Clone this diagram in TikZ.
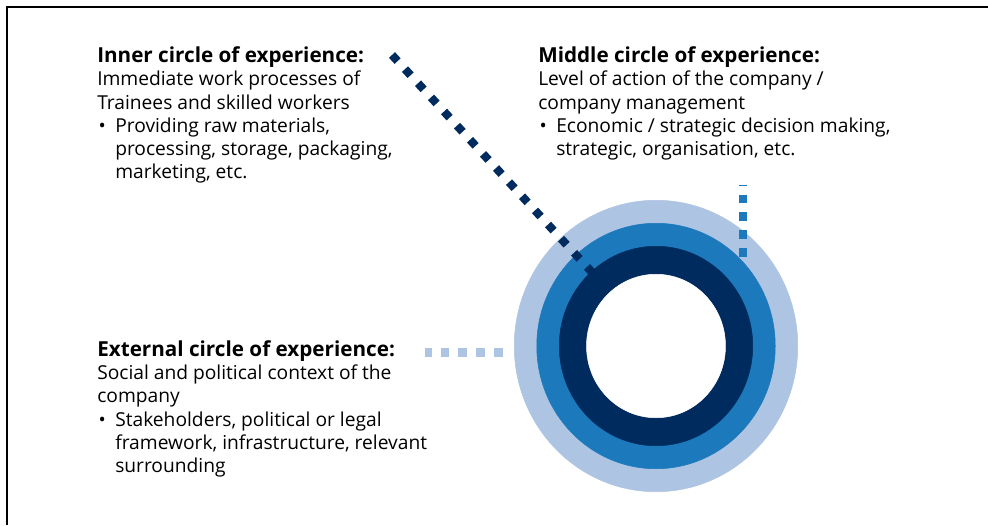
\documentclass[tikz,border=0pt]{standalone}
\usepackage{fontspec}
\setmainfont{Open Sans}
\usetikzlibrary{shapes.geometric}
\definecolor{ringlight}{RGB}{173,196,226}
\definecolor{ringmid}{RGB}{27,121,188}
\definecolor{ringdark}{RGB}{0,43,95}
\tikzset{
    % Ring styles
    ring/.style={
        ellipse,
        draw=#1,
        fill=#1,
        line width=0.4pt,
        inner sep=0pt,
        outer sep=0pt
    },
    % Text styles
    info block/.style={
        anchor=north west,
        inner sep=0pt,
        align=left,
        font=\fontsize{14.4}{17.45}\selectfont
    },
    % Link styles
    diamond link/.style={
        ringdark,
        line width=6.2pt,
        dash pattern=on 6.2pt off 8.2pt
    },
    square link/.style={
        line width=6.6pt,
        dash pattern=on 6.6pt off 6.7pt
    }
}
\newcommand{\bitem}{\makebox[13.5pt][l]{\hspace{1pt}\textbullet}}
\newcommand{\bcont}{\hspace*{13.5pt}}
\newcommand{\heading}[1]{\textbf{\fontsize{15.5}{17.45}\selectfont #1}}

\begin{document}
\begin{tikzpicture}[x=0.75pt, y=-0.75pt]
    \useasboundingbox (0,0) rectangle (988,525);
    \draw[line width=0.8pt] (988,7) -- (7,7) -- (7,525);

    % rings
    \node[ring=ringlight, minimum width=212.6pt, minimum height=218.6pt] (extring) at (656,346) {};
    \node[ring=ringmid, minimum width=178.85pt, minimum height=184.1pt] (midring) at (extring.center) {};
    \node[ring=ringdark, minimum width=145.1pt, minimum height=149.6pt] (innring) at (extring.center) {};
    \node[ring=white, minimum width=104.2pt, minimum height=107.6pt] (hub) at (extring.center) {};

    % texts
    \node[info block] (innertext) at (97,46) {\strut\heading{Inner circle of experience:}\\
        Immediate work processes of\\
        Trainees and skilled workers\\
        \bitem Providing raw materials,\\
        \bcont processing, storage, packaging,\\
        \bcont marketing, etc.};
    \node[info block] (middletext) at (538,46) {\strut\heading{Middle circle of experience:}\\
        Level of action of the company /\\
        company management\\
        \bitem Economic / strategic decision making,\\
        \bcont strategic, organisation, etc.};
    \node[info block] (externaltext) at (97,339.8) {\strut\heading{External circle of experience:}\\
        Social and political context of the\\
        company\\
        \bitem Stakeholders, political or legal\\
        \bcont framework, infrastructure, relevant\\
        \bcont surrounding};

    % links
    \coordinate (innerstart) at (392,55);
    \coordinate (innerend) at (593,273.4);
    \coordinate (middlestart) at (743,256.5);
    \coordinate (middleend) at (743,184.5);
    \coordinate (externalstart) at (502.5,352.7);
    \coordinate (externalend) at (425,352.7);
    \draw[diamond link] (innerstart) -- (innerend);
    \draw[square link, ringmid] (middlestart) -- (middleend);
    \draw[square link, ringlight] (externalstart) -- (externalend);
\end{tikzpicture}
\end{document}
